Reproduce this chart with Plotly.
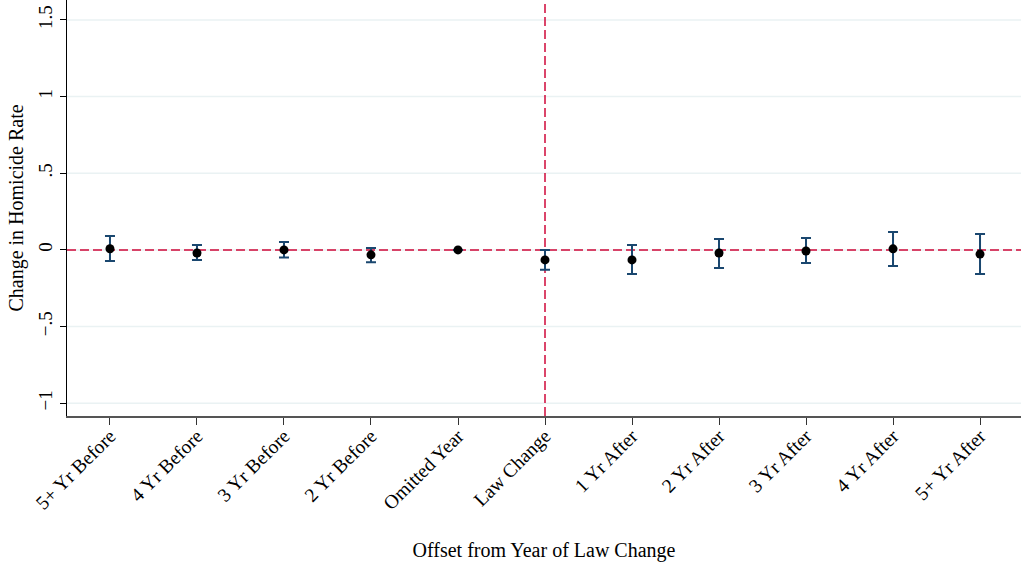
import plotly.graph_objects as go

categories = ["5+ Yr Before", "4 Yr Before", "3 Yr Before", "2 Yr Before", "Omitted Year",
              "Law Change", "1 Yr After", "2 Yr After", "3 Yr After", "4 Yr After", "5+ Yr After"]
estimates = [0.008, -0.02, 0.0, -0.032, 0.0, -0.065, -0.065, -0.02, -0.007, 0.007, -0.027]
ci_upper = [0.091, 0.033, 0.052, 0.013, None, 0.0, 0.033, 0.072, 0.078, 0.117, 0.104]
ci_lower = [-0.072, -0.065, -0.05, -0.08, None, -0.13, -0.157, -0.117, -0.085, -0.104, -0.157]
y_tickvals = [-1, -0.5, 0, 0.5, 1, 1.5]
y_ticktext = ["\u22121", "\u2212.5", "0", ".5", "1", "1.5"]

x_idx = list(range(len(categories)))
err_plus = [None if u is None else u - e for u, e in zip(ci_upper, estimates)]
err_minus = [None if l is None else e - l for l, e in zip(ci_lower, estimates)]

FONT = "Liberation Serif"
RED = "#d0083a"

fig = go.Figure()
# gridlines drawn as shapes below the data so the reference line stays visible
for v in y_tickvals:
    fig.add_hline(y=v, line=dict(color="#eaf2f3", width=1.5), layer="below")
fig.add_hline(y=0, line=dict(color=RED, width=1.5, dash="9px,4px"), layer="below")
fig.add_vline(x=5, line=dict(color=RED, width=1.5, dash="9px,4px"), layer="below")

fig.add_trace(go.Scatter(
    x=x_idx, y=estimates, mode="markers",
    marker=dict(color="black", size=9),
    error_y=dict(type="data", symmetric=False, array=err_plus, arrayminus=err_minus,
                 color="#1a476f", thickness=2, width=5),
    showlegend=False,
))

fig.update_layout(
    width=1021, height=569,
    margin=dict(l=67, r=0, t=0, b=153),
    paper_bgcolor="white", plot_bgcolor="white",
    font=dict(family=FONT, size=19, color="black"),
)
fig.update_xaxes(
    range=[-0.494, 10.471], tickmode="array", tickvals=x_idx, ticktext=categories,
    tickangle=-45, ticks="outside", ticklen=7, tickcolor="#333333",
    showline=True, linecolor="#555555", linewidth=2, showgrid=False, zeroline=False,
    tickfont=dict(family=FONT, size=19.5), ticklabelstandoff=-8,
    title=dict(text="Offset from Year of Law Change", font=dict(family=FONT, size=20), standoff=30),
    automargin=False,
)
fig.update_yaxes(
    range=[-1.083, 1.63], tickmode="array", tickvals=y_tickvals, ticktext=y_ticktext,
    tickangle=-90, ticks="outside", ticklen=6, tickcolor="black",
    showline=True, linecolor="black", linewidth=1.2, showgrid=False, zeroline=False,
    tickfont=dict(family=FONT, size=19),
    title=dict(text="Change in Homicide Rate", font=dict(family=FONT, size=20), standoff=6),
    automargin=False,
)

fig.write_html("out.html", config={"displayModeBar": False},
               post_script="document.body.style.margin='0';document.body.style.overflow='hidden';")
